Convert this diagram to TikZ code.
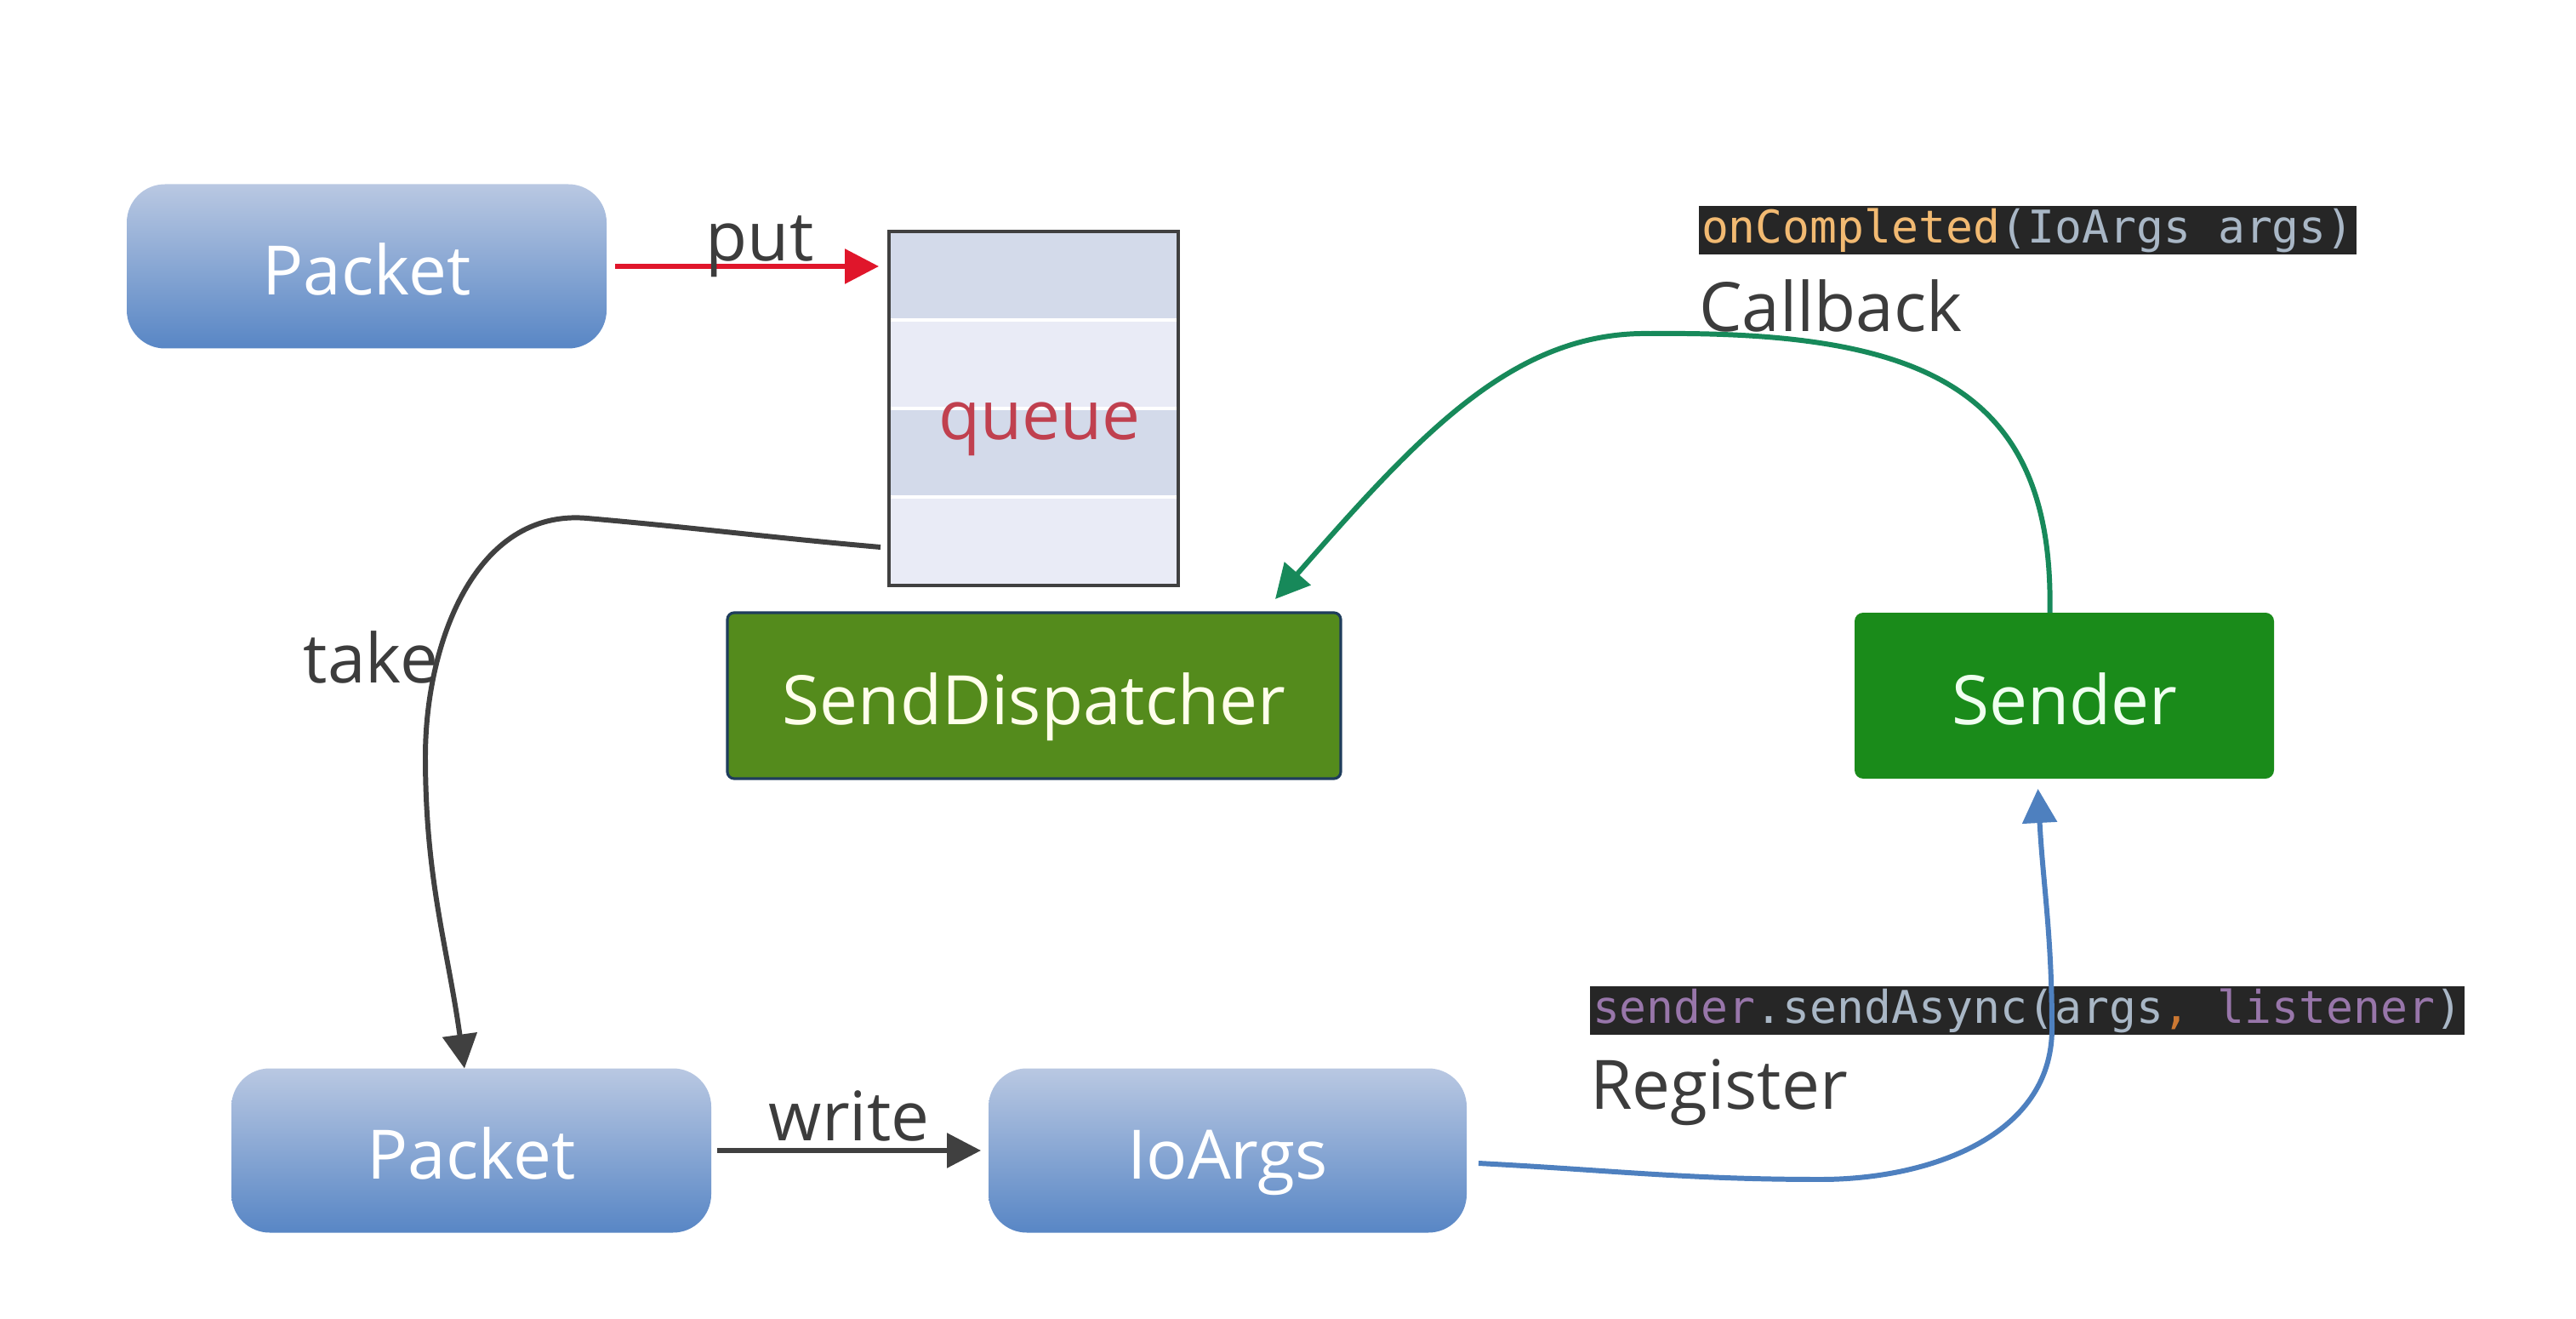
\documentclass[tikz,border=0pt]{standalone}
\usepackage{fontspec}
\setsansfont{Open Sans}
\setmonofont{DejaVu Sans Mono}
\usetikzlibrary{arrows.meta}
\definecolor{pktTop}{HTML}{B9C8E2}
\definecolor{pktBottom}{HTML}{5886C5}
\definecolor{sdFill}{HTML}{548B1C}
\definecolor{sdBorder}{HTML}{1F3D5C}
\definecolor{sndFill}{HTML}{1A8B1A}
\definecolor{qDark}{HTML}{D3DAEA}
\definecolor{qLight}{HTML}{E9EBF6}
\definecolor{qBorder}{HTML}{404040}
\definecolor{qText}{HTML}{C0404F}
\definecolor{lblGray}{HTML}{3C3C3C}
\definecolor{putRed}{HTML}{E0162B}
\definecolor{takeGray}{HTML}{404040}
\definecolor{cbGreen}{HTML}{17895A}
\definecolor{regBlue}{HTML}{4E80BF}
\definecolor{codeBg}{HTML}{262626}
\definecolor{codeOrange}{HTML}{F2BA72}
\definecolor{codeGray}{HTML}{A9B7C6}
\definecolor{codePurple}{HTML}{9876AA}
\definecolor{codeComma}{HTML}{CC7832}
\newcommand{\boxfont}{\sffamily\fontsize{22.8}{27}\selectfont}
\newcommand{\codefont}{\ttfamily\fontsize{15.1}{18}\selectfont}

\begin{document}
\begin{tikzpicture}[
        every node/.style={inner sep=0pt, outer sep=0pt},
        boxtext/.style={font=\boxfont, text height=0.67cm, text depth=0cm},
        pkt/.style={boxtext, rounded corners=0.45cm, top color=pktTop, bottom color=pktBottom,
            minimum width=5.64cm, minimum height=1.93cm, text=white},
        lbl/.style={text=lblGray, font=\boxfont},
        codebox/.style={fill=codeBg, minimum height=0.57cm, inner xsep=0.03cm, anchor=west, font=\codefont},
        arr/.style={line width=1.7pt, -{Triangle[length=0.4cm,width=0.4cm]}}
    ]
    \fill[white] (0,0) rectangle (30.28,15.49);
    \useasboundingbox (0,0) rectangle (30.28,15.49);

    % queue stripes
    \fill[qDark] (10.45,12.77) rectangle (13.85,11.73);
    \fill[qLight] (10.45,11.73) rectangle (13.85,10.69);
    \fill[qDark] (10.45,10.69) rectangle (13.85,9.65);
    \fill[qLight] (10.45,9.65) rectangle (13.85,8.61);
    \foreach \y in {11.73, 10.69, 9.65}
        \draw[white, line width=1.2pt] (10.45,\y) -- (13.85,\y);
    \node[draw=qBorder, line width=1.2pt, minimum width=3.4cm, minimum height=4.16cm] (queue) at (12.15,10.69) {};
    \node[anchor=base, text=qText, font=\boxfont] (qname) at (12.22,10.32) {queue};

    \node[pkt] (pk1) at (4.31,12.36) {Packet};
    \node[pkt] (pk2) at (5.54,1.97) {Packet};
    \node[pkt, minimum width=5.62cm] (io) at (14.43,1.97) {IoArgs};
    \node[boxtext, draw=sdBorder, line width=0.9pt, fill=sdFill, rounded corners=0.08cm, minimum width=7.21cm,
        minimum height=1.95cm, text=white!92!yellow] (sd) at (12.155,7.315) {SendDispatcher};
    \node[boxtext, fill=sndFill, rounded corners=0.1cm, minimum width=4.93cm, minimum height=1.95cm,
        text=white!94!green] (snd) at (24.265,7.315) {Sender};

    % code snippets
    \node[codebox] (oncomp) at (19.97,12.78)
        {\textcolor{codeOrange}{onCompleted}\textcolor{codeGray}{(IoArgs args)}};
    \node[lbl, anchor=base west] (cb) at (19.97,11.59) {Callback};
    \node[codebox] (async) at (18.69,3.615)
        {\textcolor{codePurple}{sender}\textcolor{codeGray}{.sendAsync(args}\textcolor{codeComma}{, }\textcolor{codePurple}{listener}\textcolor{codeGray}{)}};
    \node[lbl, anchor=base west] (reg) at (18.69,2.46) {Register};

    % put
    \draw[arr, putRed] ([xshift=0.1cm]pk1.east) -- ([xshift=-0.12cm]pk1.east -| queue.west);
    \node[lbl, anchor=base] (put) at (8.93,12.42) {put};

    % take
    \coordinate (qtake) at (10.35,9.06);
    \draw[arr, takeGray] (qtake) to[out=175,in=-5] (6.9,9.40) to[out=175,in=90] (5.0,6.6)
        to[out=-90,in=98] ([xshift=-0.08cm]pk2.north);
    \node[lbl, anchor=base] (take) at (4.36,7.47) {take};

    % write
    \draw[arr, takeGray] ([xshift=0.07cm]pk2.east) -- ([xshift=-0.09cm]io.west);
    \node[lbl, anchor=base] (write) at (9.98,2.09) {write};

    % register
    \draw[arr, regBlue] ([xshift=0.14cm,yshift=-0.15cm]io.east) to[out=-3,in=180] (21.4,1.63)
        to[out=0,in=-90] (24.12,3.4) to[out=90,in=-87] ([xshift=-0.31cm,yshift=-0.12cm]snd.south);

    % callback
    \draw[arr, cbGreen] ([xshift=-0.17cm]snd.north) .. controls (24.15,11.0) and (22.5,11.6) .. (19.4,11.57)
        .. controls (17.8,11.6) and (16.7,10.4) .. ([xshift=-0.77cm,yshift=0.16cm]sd.north east);
\end{tikzpicture}
\end{document}
